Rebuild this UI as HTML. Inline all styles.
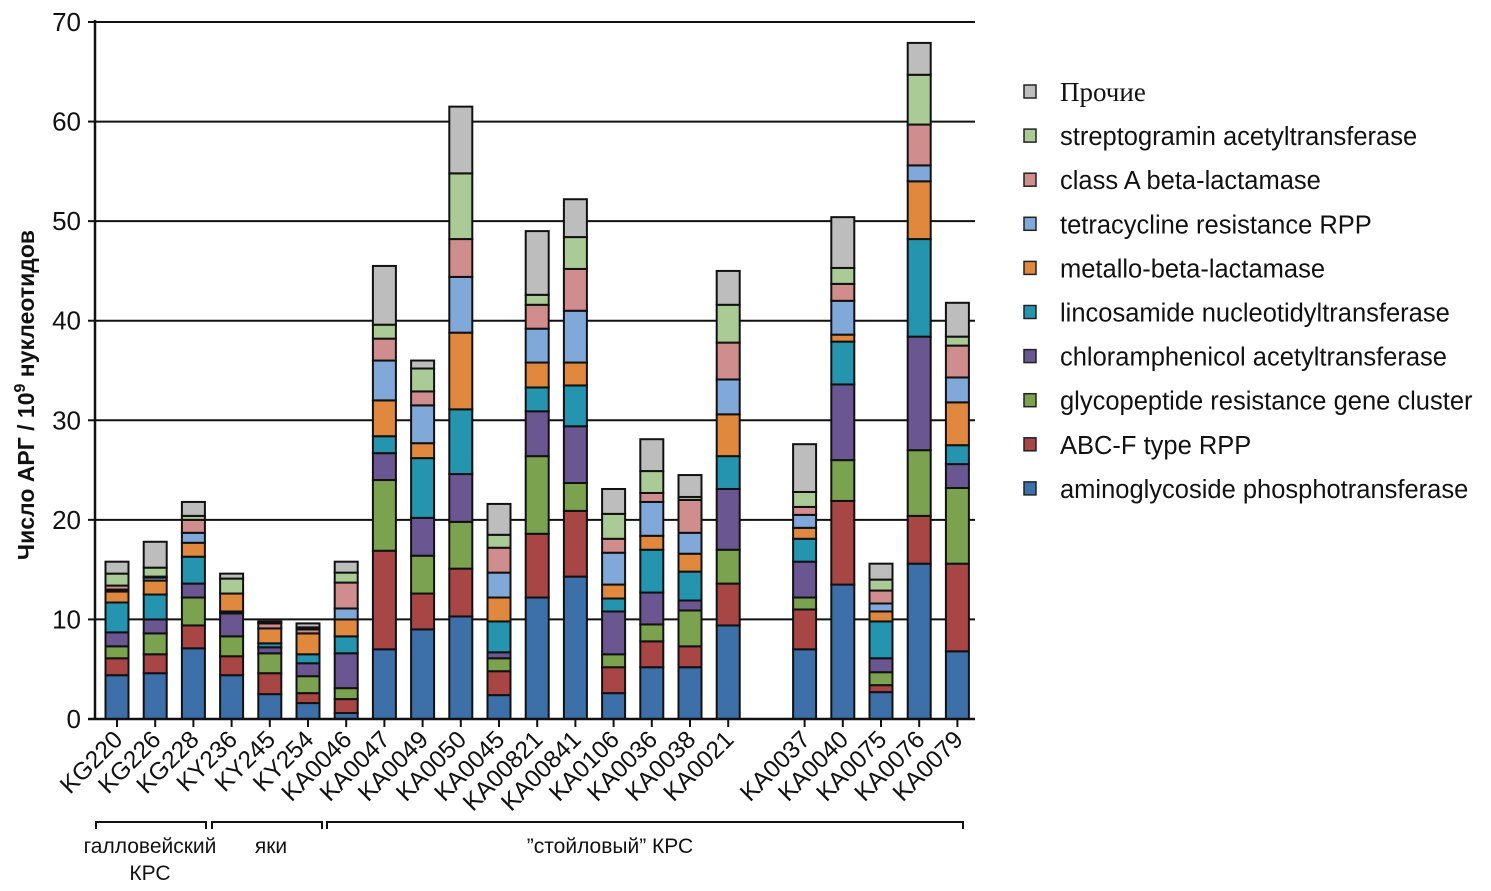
<!DOCTYPE html>
<html><head><meta charset="utf-8">
<style>
body{margin:0;background:#fff;}
svg{display:block;font-family:"Liberation Sans","DejaVu Sans",sans-serif;}
</style></head>
<body>
<svg id="chart" width="1491" height="891" viewBox="0 0 1491 891"></svg>
<script>
const categories=["KG220","KG226","KG228","KY236","KY245","KY254","KA0046","KA0047","KA0049","KA0050","KA0045","KA00821","KA00841","KA0106","KA0036","KA0038","KA0021","KA0037","KA0040","KA0075","KA0076","KA0079"];
const slots=[0,1,2,3,4,5,6,7,8,9,10,11,12,13,14,15,16,18,19,20,21,22];
const seriesNames=["aminoglycoside phosphotransferase","ABC-F type RPP","glycopeptide resistance gene cluster","chloramphenicol acetyltransferase","lincosamide nucleotidyltransferase","metallo-beta-lactamase","tetracycline resistance RPP","class A beta-lactamase","streptogramin  acetyltransferase","Прочие"];
const seriesColors=["#3d6fa8","#a84545","#7ba24f","#6a5691","#2594ae","#e0883d","#80a8d8","#cf8d8d","#aacb95","#bdbdbd"];
const amino=[4.4,4.6,7.1,4.4,2.5,1.6,0.6,7.0,9.0,10.3,2.4,12.2,14.3,2.6,5.2,5.2,9.4,7.0,13.5,2.7,15.6,6.8];
const abcf=[1.7,1.9,2.3,1.9,2.1,1.0,1.4,9.9,3.6,4.8,2.4,6.4,6.6,2.6,2.6,2.1,4.2,4.0,8.4,0.7,4.8,8.8];
const glyco=[1.2,2.1,2.8,2.0,2.0,1.7,1.1,7.1,3.8,4.7,1.3,7.8,2.8,1.3,1.7,3.6,3.4,1.2,4.1,1.3,6.6,7.6];
const chloram=[1.4,1.4,1.4,2.3,0.6,1.3,3.5,2.7,3.8,4.8,0.6,4.5,5.7,4.3,3.2,1.0,6.1,3.6,7.6,1.4,11.4,2.4];
const linco=[3.0,2.5,2.7,0.2,0.4,0.9,1.7,1.7,6.0,6.5,3.1,2.4,4.1,1.3,4.3,2.9,3.3,2.3,4.3,3.7,9.8,1.9];
const metallo=[1.1,1.4,1.4,1.8,1.5,2.1,1.7,3.6,1.5,7.7,2.4,2.5,2.3,1.4,1.4,1.8,4.2,1.1,0.7,1.0,5.8,4.3];
const tetra=[0.2,0.3,1.0,0,0,0,1.1,4.0,3.8,5.6,2.5,3.4,5.2,3.2,3.4,2.1,3.5,1.3,3.4,0.8,1.6,2.5];
const classA=[0.4,0.1,1.3,0,0.5,0.4,2.6,2.2,1.4,3.8,2.5,2.4,4.2,1.4,0.9,3.3,3.7,0.8,1.7,1.3,4.1,3.2];
const strepto=[1.2,0.9,0.4,1.5,0.1,0.2,1.0,1.4,2.3,6.6,1.3,1.0,3.2,2.5,2.2,0.3,3.8,1.5,1.6,1.1,5.0,0.9];
const other=[1.2,2.6,1.4,0.5,0.1,0.4,1.1,5.9,0.8,6.7,3.1,6.4,3.8,2.5,3.2,2.2,3.4,4.8,5.1,1.6,3.2,3.4];
const series=[amino,abcf,glyco,chloram,linco,metallo,tetra,classA,strepto,other];
const yTicks=[0,10,20,30,40,50,60,70];

const NS="http://www.w3.org/2000/svg";
const svg=document.getElementById("chart");
const X0=95,Y0=719,YTOP=22,XR=975;
const yScale=v=>Y0-(Y0-YTOP)*v/70;
const xScale=s=>117+s*38.2;
const BW=23;
function mk(tag,attrs,parent){const e=document.createElementNS(NS,tag);for(const k in attrs)e.setAttribute(k,attrs[k]);(parent||svg).appendChild(e);return e;}

yTicks.forEach(t=>{
  const y=yScale(t);
  if(t>0){const g=mk("line",{x1:X0,x2:XR,y1:y,y2:y,stroke:"#111","stroke-width":2});
  
  }
  const tk=mk("line",{x1:X0-7,x2:X0,y1:y,y2:y,stroke:"#111","stroke-width":2});
  
  
  const lb=mk("text",{x:X0-14,y:y+9,"text-anchor":"end","font-size":26,fill:"#111"});
  lb.textContent=t;
  
  
});

categories.forEach((c,i)=>{
  const cx=xScale(slots[i]);
  let cum=0;
  series.forEach((s,k)=>{
    const v=s[i];
    if(v<=0)return;
    const y1=yScale(cum+v),y2=yScale(cum);
    const r=mk("rect",{x:cx-BW/2,y:y1,width:BW,height:y2-y1,fill:seriesColors[k],stroke:"#111","stroke-width":2});
    
    
    cum+=v;
  });
  const tk=mk("line",{x1:cx,x2:cx,y1:Y0,y2:Y0+8,stroke:"#111","stroke-width":2});
  
  
  const lb=mk("text",{x:cx+7,y:Y0+22,"text-anchor":"end","font-size":24.5,fill:"#111",transform:`rotate(-45 ${cx+7} ${Y0+22})`});
  lb.textContent=c;
  
  
});

const ya=mk("line",{x1:X0,x2:X0,y1:YTOP-2,y2:Y0+1,stroke:"#111","stroke-width":2.5});


const xa=mk("line",{x1:X0-7,x2:XR,y1:Y0,y2:Y0,stroke:"#111","stroke-width":2.5});



const yt=mk("text",{x:0,y:0,"font-size":23,"font-weight":"bold",fill:"#111","text-anchor":"middle",transform:"translate(34 395) rotate(-90)"});
yt.innerHTML='Число АРГ / 10<tspan dy="-9" font-size="16">9</tspan><tspan dy="9"> нуклеотидов</tspan>';



const groups=[[96,206,"галловейский",150],[212,322,"яки",271],[327,963,"\u201Dстойловый\u201D КРС",610]];
groups.forEach(g=>{
  const p=mk("path",{d:`M${g[0]} 829 V822 H${g[1]} V829`,fill:"none",stroke:"#111","stroke-width":2});
  
  
  const t=mk("text",{x:g[3],y:853,"text-anchor":"middle","font-size":21,fill:"#111"});
  t.textContent=g[2];
  
  
});
const t2=mk("text",{x:150,y:880,"text-anchor":"middle","font-size":21,fill:"#111"});
t2.textContent="КРС";



for(let k=9;k>=0;k--){
  const row=9-k;
  const y=92+row*44.1;
  const sq=mk("rect",{x:1024,y:y-7,width:12,height:13,fill:seriesColors[k],stroke:"#222","stroke-width":1.5});
  
  
  const t=mk("text",{x:1060,y:y+9,"font-size":k===9?27:25.5,fill:"#111"});
  if(k===9)t.setAttribute("font-family",'"Liberation Serif",serif');
  t.textContent=seriesNames[k];
  
  
}
</script>
</body></html>
